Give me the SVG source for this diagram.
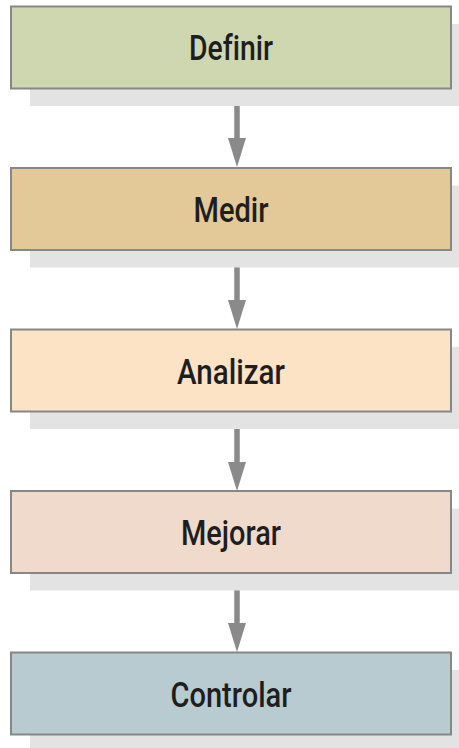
<svg xmlns="http://www.w3.org/2000/svg" width="459" height="748" viewBox="0 0 459 748">
  <defs>
    <style>
      .shadow { fill: #e3e3e3; }
      .box { stroke: #878787; stroke-width: 2; }
      .label { font-family: Roboto, "Liberation Sans", Arial, sans-serif; font-weight: 500; font-size: 35px; fill: #1e1e1e; text-anchor: middle; font-variant-ligatures: none; }
      .conn { stroke: #8a8a8a; stroke-width: 5.5; fill: none; }
      .head { fill: #8a8a8a; }
    </style>
  </defs>
  <rect width="459" height="748" fill="#ffffff"/>
  <g id="connectors">
    <line class="conn" x1="237" y1="89" x2="237" y2="142"/>
    <polygon class="head" points="228,138 246,138 237,167"/>
    <line class="conn" x1="237" y1="250" x2="237" y2="304"/>
    <polygon class="head" points="228,300 246,300 237,329"/>
    <line class="conn" x1="237" y1="412" x2="237" y2="466"/>
    <polygon class="head" points="228,462 246,462 237,491"/>
    <line class="conn" x1="237" y1="573" x2="237" y2="627"/>
    <polygon class="head" points="228,623 246,623 237,652"/>
  </g>
  <g id="definir">
    <rect class="shadow" x="30" y="24" width="440" height="82"/>
    <rect class="box" x="11" y="6.5" width="440" height="82" fill="#cfd7b0"/>
    <text class="label" x="231" y="60" textLength="84" lengthAdjust="spacingAndGlyphs">Definir</text>
  </g>
  <g id="medir">
    <rect class="shadow" x="30" y="185.5" width="440" height="82"/>
    <rect class="box" x="11" y="168" width="440" height="82" fill="#e3c997"/>
    <text class="label" x="231" y="222" textLength="75" lengthAdjust="spacingAndGlyphs">Medir</text>
  </g>
  <g id="analizar">
    <rect class="shadow" x="30" y="347" width="440" height="82"/>
    <rect class="box" x="11" y="329.5" width="440" height="82" fill="#fde3c6"/>
    <text class="label" x="231" y="384" textLength="108" lengthAdjust="spacingAndGlyphs">Analizar</text>
  </g>
  <g id="mejorar">
    <rect class="shadow" x="30" y="508.5" width="440" height="82"/>
    <rect class="box" x="11" y="491" width="440" height="82" fill="#f0dacb"/>
    <text class="label" x="231" y="545" textLength="100" lengthAdjust="spacingAndGlyphs">Mejorar</text>
  </g>
  <g id="controlar">
    <rect class="shadow" x="30" y="670" width="440" height="82"/>
    <rect class="box" x="11" y="652.5" width="440" height="82" fill="#b7cbd0"/>
    <text class="label" x="231" y="707" textLength="121" lengthAdjust="spacingAndGlyphs">Controlar</text>
  </g>
</svg>
